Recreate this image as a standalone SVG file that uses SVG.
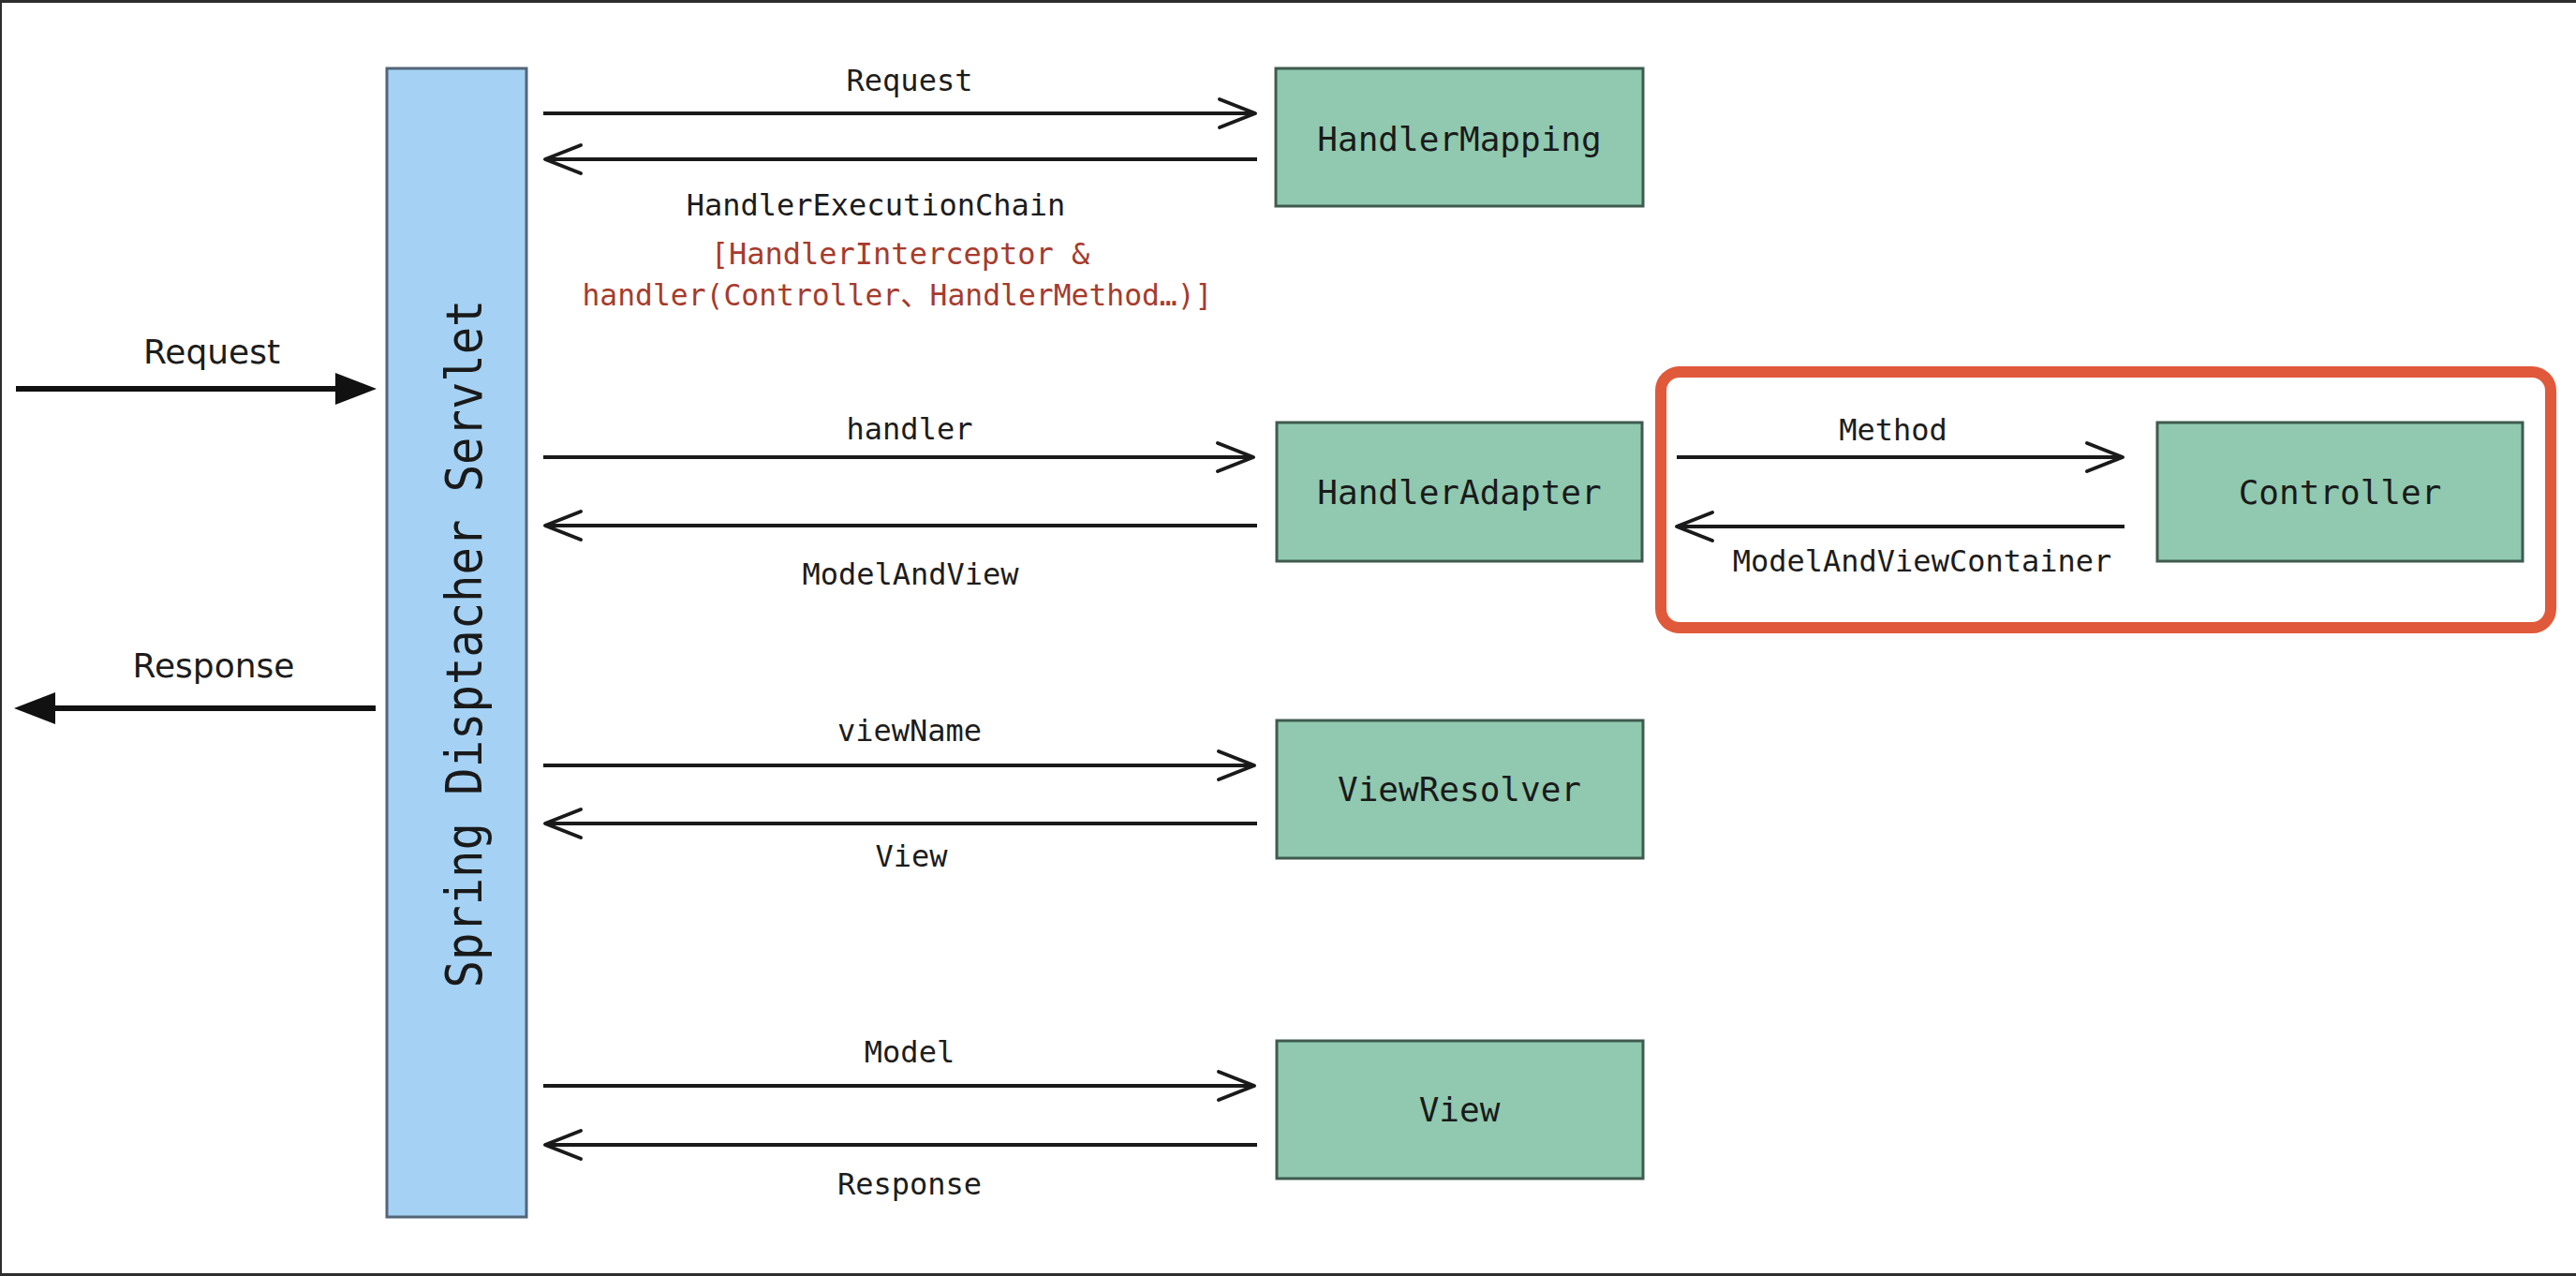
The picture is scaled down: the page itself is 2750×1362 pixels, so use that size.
<svg xmlns="http://www.w3.org/2000/svg" width="2750" height="1362" viewBox="0 0 2750 1362">
<style>
.lbl{font-family:"DejaVu Sans Mono","Liberation Mono",monospace;font-size:32px;fill:#1c1c1c;text-anchor:middle}
.red{fill:#a63b2c}
.side{font-family:"DejaVu Sans","Liberation Sans",sans-serif;font-size:36px;fill:#1c1c1c;text-anchor:middle}
.box{fill:#90c9b0;stroke:#3f5a4e;stroke-width:3}
.boxt{font-family:"DejaVu Sans Mono","Liberation Mono",monospace;font-size:36px;fill:#1a1a1a;text-anchor:middle}
.ln{stroke:#1a1a1a;stroke-width:4;fill:none}
.thick{stroke:#111;stroke-width:6;fill:none}
</style>
<defs>
<marker id="open" markerUnits="userSpaceOnUse" viewBox="-42 -19 46 38" refX="0" refY="0" markerWidth="46" markerHeight="38" orient="auto">
<path d="M -38 -15 L 0 0 L -38 15" fill="none" stroke="#1a1a1a" stroke-width="4" stroke-linejoin="round" stroke-linecap="round"/>
</marker>
<marker id="solid" markerUnits="userSpaceOnUse" viewBox="-36 -19 48 38" refX="0" refY="0" markerWidth="48" markerHeight="38" orient="auto">
<path d="M -34 -17 L 10 0 L -34 17 Z" fill="#111"/>
</marker>
</defs>
<rect x="0" y="0" width="2750" height="1362" fill="#ffffff"/>
<rect x="0" y="0" width="2750" height="3" fill="#2e2e2e"/>
<rect x="0" y="1359" width="2750" height="3" fill="#2e2e2e"/>
<rect x="0" y="0" width="2" height="1362" fill="#2e2e2e"/>

<g id="servlet">
<rect x="413" y="73" width="149" height="1226" fill="#a5d2f4" stroke="#526579" stroke-width="3"/>
<text class="boxt" style="font-size:54px" transform="translate(514,687) rotate(-90)" x="0" y="0" textLength="735" lengthAdjust="spacingAndGlyphs">Spring Disptacher Servlet</text>
</g>
<g id="handlerMapping">
<rect class="box" x="1362" y="73" width="392" height="147"/>
<text class="boxt" x="1558" y="161">HandlerMapping</text>
</g>
<g id="handlerAdapter">
<rect class="box" x="1363" y="451" width="390" height="148"/>
<text class="boxt" x="1558" y="538">HandlerAdapter</text>
</g>
<g id="controllerFrame">
<rect x="1773" y="397" width="950" height="273" rx="20" fill="none" stroke="#e0593b" stroke-width="12"/>
</g>
<g id="controller">
<rect class="box" x="2303" y="451" width="390" height="148"/>
<text class="boxt" x="2498" y="538">Controller</text>
</g>
<g id="viewResolver">
<rect class="box" x="1363" y="769" width="391" height="147"/>
<text class="boxt" x="1558" y="855">ViewResolver</text>
</g>
<g id="view">
<rect class="box" x="1363" y="1111" width="391" height="147"/>
<text class="boxt" x="1558" y="1197">View</text>
</g>

<g id="connectors">
<line class="thick" x1="17" y1="415" x2="392" y2="415" marker-end="url(#solid)"/>
<line class="thick" x1="401" y1="756" x2="25" y2="756" marker-end="url(#solid)"/>
<line class="ln" x1="580" y1="121" x2="1340" y2="121" marker-end="url(#open)"/>
<line class="ln" x1="1342" y1="170" x2="582" y2="170" marker-end="url(#open)"/>
<line class="ln" x1="580" y1="488" x2="1338" y2="488" marker-end="url(#open)"/>
<line class="ln" x1="1342" y1="561" x2="582" y2="561" marker-end="url(#open)"/>
<line class="ln" x1="580" y1="817" x2="1339" y2="817" marker-end="url(#open)"/>
<line class="ln" x1="1342" y1="879" x2="582" y2="879" marker-end="url(#open)"/>
<line class="ln" x1="580" y1="1159" x2="1339" y2="1159" marker-end="url(#open)"/>
<line class="ln" x1="1342" y1="1222" x2="582" y2="1222" marker-end="url(#open)"/>
<line class="ln" x1="1790" y1="488" x2="2266" y2="488" marker-end="url(#open)"/>
<line class="ln" x1="2268" y1="562" x2="1790" y2="562" marker-end="url(#open)"/>
</g>

<g id="labels">
<text class="side" x="226" y="388">Request</text>
<text class="side" x="228" y="723">Response</text>
<text class="lbl" x="971" y="97">Request</text>
<text class="lbl" x="935" y="230">HandlerExecutionChain</text>
<text class="lbl red" x="961" y="282">[HandlerInterceptor &amp;</text>
<text class="lbl red" x="958" y="326" style="font-family:'DejaVu Sans Mono','Noto Sans CJK SC',monospace" textLength="673" lengthAdjust="spacingAndGlyphs">handler(Controller、HandlerMethod…)]</text>
<text class="lbl" x="971" y="469">handler</text>
<text class="lbl" x="972" y="624">ModelAndView</text>
<text class="lbl" x="971" y="791">viewName</text>
<text class="lbl" x="973" y="925">View</text>
<text class="lbl" x="971" y="1134">Model</text>
<text class="lbl" x="971" y="1275">Response</text>
<text class="lbl" x="2021" y="470">Method</text>
<text class="lbl" x="2052" y="610">ModelAndViewContainer</text>
</g>
</svg>
